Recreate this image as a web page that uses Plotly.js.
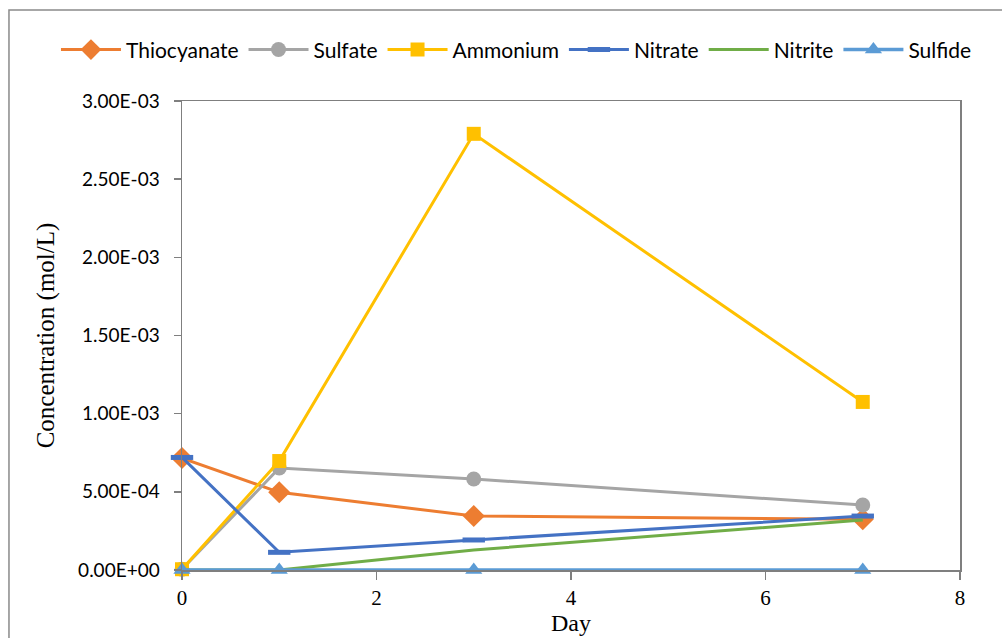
<!DOCTYPE html>
<html><head><meta charset="utf-8">
<script src="https://cdn.plot.ly/plotly-3.0.1.min.js"></script>
<style>body{margin:0;background:#fff}#c{width:1002px;height:638px}</style>
</head><body><div id="c"></div>
<script>
const days = [0, 1, 3, 7];
const thiocyanate = [7.16e-4, 4.97e-4, 3.45e-4, 3.25e-4];
const sulfate = [5e-6, 6.52e-4, 5.82e-4, 4.16e-4];
const ammonium = [5e-6, 6.97e-4, 2.79e-3, 1.075e-3];
const nitrate = [7.2e-4, 1.13e-4, 1.92e-4, 3.45e-4];
const nitrite = [0, 0, 1.28e-4, 3.2e-4];
const sulfide = [0, 0, 0, 0];
const yTickVals = [0, 5e-4, 1e-3, 1.5e-3, 2e-3, 2.5e-3, 3e-3];
const yTickText = ["0.00E+00","5.00E-04","1.00E-03","1.50E-03","2.00E-03","2.50E-03","3.00E-03"];

function tr(name, y, color, marker, w) {
  const t = {x: days, y: y, name: name, type: 'scatter', mode: marker ? 'lines+markers' : 'lines',
    line: {color: color, width: w || 3}, cliponaxis: false};
  if (marker) t.marker = marker;
  return t;
}
const data = [
  tr('Thiocyanate', thiocyanate, '#ED7D31', {symbol: 'diamond', size: 17, color: '#ED7D31'}),
  tr('Sulfate', sulfate, '#A5A5A5', {symbol: 'circle', size: 15, color: '#A5A5A5'}),
  tr('Ammonium', ammonium, '#FFC000', {symbol: 'square', size: 14, color: '#FFC000'}),
  tr('Nitrate', nitrate, '#4472C4', {symbol: 'line-ew', size: 16, color: '#4472C4', line: {color: '#4472C4', width: 5}}),
  tr('Nitrite', nitrite, '#70AD47', null),
  tr('Sulfide', sulfide, '#5B9BD5', {symbol: 'triangle-up', size: 15, color: '#5B9BD5'}, 3.5)
];
const layout = {
  width: 1002, height: 638,
  margin: {l: 182, r: 42, t: 101, b: 68},
  paper_bgcolor: '#fff', plot_bgcolor: '#fff',
  showlegend: true,
  legend: {orientation: 'h', x: -0.162, xanchor: 'left', y: 1.109, yanchor: 'middle',
    font: {family: 'Lato, sans-serif', size: 21, color: '#000'}, itemwidth: 60, tracegroupgap: 0},
  xaxis: {range: [0, 8], dtick: 2, tick0: 0, showgrid: false, zeroline: false,
    showline: true, linecolor: '#7f7f7f', linewidth: 1.5, mirror: true,
    ticks: 'outside', ticklen: 8, tickcolor: '#7f7f7f', tickwidth: 1.5,
    tickfont: {family: 'Liberation Serif, serif', size: 21, color: '#000'},
    title: {text: 'Day', font: {family: 'Liberation Serif, serif', size: 24, color: '#000'}, standoff: 2}},
  yaxis: {range: [0, 3e-3], tickvals: yTickVals, ticktext: yTickText, showgrid: false, zeroline: false,
    showline: true, linecolor: '#7f7f7f', linewidth: 1.5, mirror: true,
    ticks: 'outside', ticklen: 7, tickcolor: '#7f7f7f', tickwidth: 1.5, ticklabelstandoff: 10,
    tickfont: {family: 'Lato, sans-serif', size: 19, color: '#000'},
    title: {text: 'Concentration (mol/L)', font: {family: 'Liberation Serif, serif', size: 25, color: '#000'}, standoff: 16}},
  shapes: [{type: 'rect', xref: 'paper', yref: 'paper', x0: -0.2224, x1: 1.06, y0: -0.16, y1: 1.194,
    line: {color: '#8a8a8a', width: 1.5}, fillcolor: 'rgba(0,0,0,0)', layer: 'below'}]
};
Plotly.newPlot('c', data, layout, {displayModeBar: false, staticPlot: true});
</script></body></html>
